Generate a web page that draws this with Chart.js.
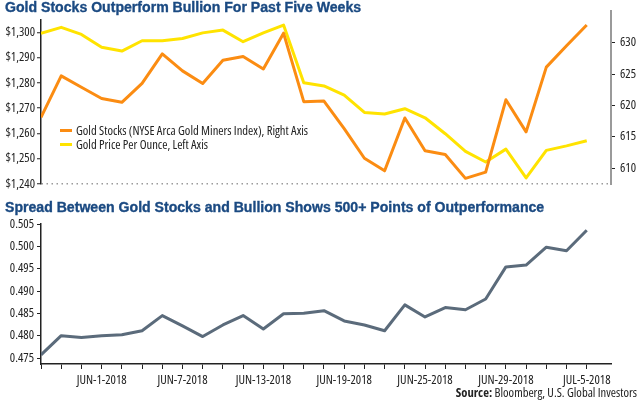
<!DOCTYPE html>
<html><head><meta charset="utf-8">
<script src="https://cdn.jsdelivr.net/npm/chart.js@4.4.0/dist/chart.umd.min.js"></script>
<style>
html,body{margin:0;padding:0;background:#fff;}
#wrap{position:relative;width:640px;height:400px;overflow:hidden;}
canvas{position:absolute;left:0;}
.title{position:absolute;left:5px;font-family:'Liberation Sans',Arial,sans-serif;font-weight:bold;font-size:14.1px;line-height:16px;color:#1b4a82;white-space:nowrap;-webkit-text-stroke:0.35px #1b4a82;}
.leg{position:absolute;left:60px;line-height:14px;color:#222;white-space:nowrap;}
.leg span{display:inline-block;width:12px;height:3px;vertical-align:middle;margin-right:4px;position:relative;top:-1px;}
#src{position:absolute;right:3px;top:386px;line-height:14px;color:#222;white-space:nowrap;}
</style></head>
<body><div id="wrap">
<canvas id="c1" width="640" height="200" style="top:0"></canvas>
<canvas id="c2" width="640" height="200" style="top:200px"></canvas>
<div class="title" id="t1" style="top:-1px">Gold Stocks Outperform Bullion For Past Five Weeks</div>
<div class="title" id="t2" style="top:199px">Spread Between Gold Stocks and Bullion Shows 500+ Points of Outperformance</div>
<div class="leg txt" style="top:124px"><span style="background:#fb8c12"></span>Gold Stocks (NYSE Arca Gold Miners Index), Right Axis</div>
<div class="leg txt" style="top:138px"><span style="background:#ffe300"></span>Gold Price Per Ounce, Left Axis</div>
<div id="src" class="txt"><b>Source:</b> Bloomberg, U.S. Global Investors</div>
</div>
<script>
const categories = ['MAY-29-2018','MAY-30-2018','MAY-31-2018','JUN-1-2018','JUN-4-2018','JUN-5-2018','JUN-6-2018','JUN-7-2018','JUN-8-2018','JUN-11-2018','JUN-12-2018','JUN-13-2018','JUN-14-2018','JUN-15-2018','JUN-18-2018','JUN-19-2018','JUN-20-2018','JUN-21-2018','JUN-22-2018','JUN-25-2018','JUN-26-2018','JUN-27-2018','JUN-28-2018','JUN-29-2018','JUL-2-2018','JUL-3-2018','JUL-4-2018','JUL-5-2018'];
const shownLabels = ['JUN-1-2018','JUN-7-2018','JUN-13-2018','JUN-19-2018','JUN-25-2018','JUN-29-2018','JUL-5-2018'];

const goldStocks = [618.1,624.7,622.9,621.1,620.5,623.5,628.2,625.5,623.5,627.2,627.8,625.8,631.5,620.6,620.7,616.3,611.6,609.6,618.0,612.8,612.2,608.4,609.4,620.9,615.8,626.1,629.5,632.8];
const goldPrice = [1299.6,1302.0,1299.2,1294.1,1292.6,1296.7,1296.7,1297.6,1299.8,1300.9,1296.3,1299.8,1302.9,1280.1,1278.8,1275.2,1268.3,1267.7,1269.8,1266.2,1259.9,1252.9,1248.7,1253.8,1242.4,1253.3,1255.1,1257.1];
const spread = [0.4757,0.4800,0.4796,0.4800,0.4802,0.4811,0.4845,0.4822,0.4798,0.4824,0.4845,0.4815,0.4849,0.4850,0.4856,0.4833,0.4824,0.4811,0.4869,0.4842,0.4863,0.4858,0.4882,0.4954,0.4958,0.4998,0.4990,0.5036];

const goldTicks = [1240,1250,1260,1270,1280,1290,1300];
const goldTickLabels = ['$1,240','$1,250','$1,260','$1,270','$1,280','$1,290','$1,300'];
const stockTicks = [610,615,620,625,630];
const spreadTicks = [0.475,0.480,0.485,0.490,0.495,0.500,0.505];
const spreadTickLabels = ['0.475','0.480','0.485','0.490','0.495','0.500','0.505'];

const ORANGE = '#fb8c12', YELLOW = '#ffe300', GRAY = '#5b6b7b', DARK = '#222';

// pick a narrow-looking installed font for small texts
const SAMPLE = 'Gold Stocks (NYSE Arca Gold Miners Index), Right Axis';
const mctx = document.createElement('canvas').getContext('2d');
const mw = (f, s) => { mctx.font = f; return mctx.measureText(s || SAMPLE).width; };
let fam = '"Lato", sans-serif', stretch = '';
for (const f of ['Open Sans', 'Noto Sans']) {
  const n = mw(`100px "${f}"`), c = mw(`condensed 100px "${f}"`);
  if (c < n * 0.9) { fam = `"${f}", sans-serif`; stretch = 'condensed'; break; }
}
const fsize = Math.round(Math.max(9.5, Math.min(13, 100 * 233 / mw(`${stretch} 100px ${fam}`))) * 10) / 10;
document.querySelectorAll('.txt').forEach(el => {
  el.style.fontFamily = fam; el.style.fontSize = fsize + 'px';
  if (stretch) el.style.fontStretch = stretch;
});

Chart.defaults.font.family = fam;
Chart.defaults.font.size = fsize;
if (stretch) Chart.defaults.font.weight = stretch;
Chart.defaults.color = DARK;

const pts = arr => arr.map((v, i) => ({x: i, y: v}));
const setTicks = vals => s => { s.ticks = vals.map(v => ({value: v})); };

const extendAxis = {
  id: 'extendAxis',
  afterDraw(chart) {
    const s = chart.scales.yR, ctx = chart.ctx;
    const x = Math.round(s.left);
    ctx.save();
    ctx.strokeStyle = '#9a9a9a'; ctx.lineWidth = 2;
    ctx.beginPath(); ctx.moveTo(x, chart.chartArea.top - 10); ctx.lineTo(x, chart.chartArea.top + 1); ctx.stroke();
    ctx.restore();
  }
};

new Chart(document.getElementById('c1'), {
  type: 'line',
  data: { datasets: [
    { label: 'Gold Stocks (NYSE Arca Gold Miners Index), Right Axis', data: pts(goldStocks), yAxisID: 'yR',
      borderColor: ORANGE, borderWidth: 3, pointRadius: 0, tension: 0, borderJoinStyle: 'round', fill: false },
    { label: 'Gold Price Per Ounce, Left Axis', data: pts(goldPrice), yAxisID: 'yL',
      borderColor: YELLOW, borderWidth: 3, pointRadius: 0, tension: 0, borderJoinStyle: 'round', fill: false }
  ]},
  options: {
    responsive: false, animation: false, devicePixelRatio: 1,
    layout: { padding: { top: 20, bottom: 16, left: 0, right: 0 } },
    plugins: { legend: { display: false }, tooltip: { enabled: false } },
    scales: {
      x: { type: 'linear', display: false, min: 0, max: 28.2 },
      yL: { position: 'left', min: 1240, max: 1304.9,
        afterBuildTicks: setTicks(goldTicks), afterFit: s => { s.width = 41; },
        ticks: { padding: 2, callback: v => goldTickLabels[goldTicks.indexOf(v)] },
        grid: { drawOnChartArea: true, color: c => (c.tick && c.tick.value === 1240) ? '#9a9a9a' : 'rgba(0,0,0,0)',
                lineWidth: 1.5, tickLength: 4, tickColor: DARK, tickWidth: 1 },
        border: { display: true, color: DARK, width: 1.5, dash: [1.5, 3.5] } },
      yR: { position: 'right', min: 607.5, max: 633.6,
        afterBuildTicks: setTicks(stockTicks), afterFit: s => { s.width = 29; },
        ticks: { padding: 5 },
        grid: { drawOnChartArea: false, tickLength: 4, tickColor: DARK, tickWidth: 1 },
        border: { display: true, color: '#9a9a9a', width: 2 } }
    }
  },
  plugins: [extendAxis]
});

new Chart(document.getElementById('c2'), {
  type: 'line',
  data: { datasets: [
    { label: 'Spread', data: pts(spread), borderColor: GRAY, borderWidth: 3, pointRadius: 0, tension: 0, borderJoinStyle: 'round', fill: false }
  ]},
  options: {
    responsive: false, animation: false, devicePixelRatio: 1,
    layout: { padding: { top: 24, bottom: 0, left: 0, right: 29 } },
    plugins: { legend: { display: false }, tooltip: { enabled: false } },
    scales: {
      x: { type: 'linear', min: 0, max: 28.2,
        afterBuildTicks: setTicks(categories.map((c, i) => i)), afterFit: s => { s.height = 36; },
        ticks: { autoSkip: false, maxRotation: 0, padding: 4,
          callback: v => shownLabels.includes(categories[v]) ? categories[v] : '' },
        grid: { drawOnChartArea: false, tickLength: 5, tickColor: DARK, tickWidth: 1 },
        border: { display: true, color: DARK, width: 1.5 } },
      y: { min: 0.47366, max: 0.505,
        afterBuildTicks: setTicks(spreadTicks), afterFit: s => { s.width = 41; },
        ticks: { padding: 3, callback: v => spreadTickLabels[spreadTicks.findIndex(t => Math.abs(t - v) < 1e-9)] },
        grid: { drawOnChartArea: false, tickLength: 4, tickColor: DARK, tickWidth: 1 },
        border: { display: true, color: DARK, width: 1.5 } }
    }
  }
});
</script>
</body></html>
